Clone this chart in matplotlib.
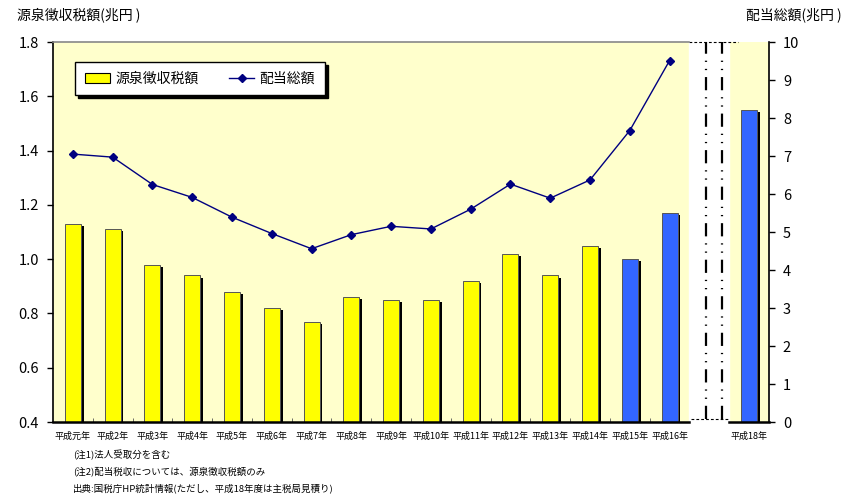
import matplotlib

matplotlib.use("Agg")
import matplotlib.pyplot as plt
import numpy as np
from matplotlib.patches import Patch
from matplotlib.lines import Line2D

plt.rcParams["font.family"] = ["Noto Sans CJK JP", "DejaVu Sans"]
plt.rcParams["lines.scale_dashes"] = False

# --- data ---------------------------------------------------------------
years = ["平成元年", "平成2年", "平成3年", "平成4年", "平成5年", "平成6年", "平成7年",
         "平成8年", "平成9年", "平成10年", "平成11年", "平成12年", "平成13年",
         "平成14年", "平成15年", "平成16年"]
withholding = [1.13, 1.11, 0.98, 0.94, 0.88, 0.82, 0.77, 0.86, 0.85, 0.85,
               0.92, 1.02, 0.94, 1.05, 1.00, 1.17]
dividends = [7.05, 6.97, 6.25, 5.91, 5.39, 4.96, 4.56, 4.93, 5.15, 5.08,
             5.60, 6.26, 5.89, 6.37, 7.67, 9.51]
extra_year = "平成18年"
extra_withholding = 1.55
blue_years = {"平成15年", "平成16年"}

left_ticks = [0.4, 0.6, 0.8, 1.0, 1.2, 1.4, 1.6, 1.8]
right_ticks = list(range(0, 11))
notes = ["(注1)法人受取分を含む",
         "(注2)配当税収については、源泉徴収税額のみ",
         "出典:国税庁HP統計情報(ただし、平成18年度は主税局見積り)"]

YELLOW = "#FFFF00"
BLUE = "#3366FF"
BG = "#FFFFCC"
NAVY = "#000080"

W, H = 852, 495
fig = plt.figure(figsize=(W / 100, H / 100), dpi=100)
ax1 = fig.add_axes([53 / W, 1 - 422 / H, (769 - 53) / W, (422 - 42) / H])
ax1.set_facecolor(BG)

n = len(years)
x = np.arange(n)
gap_x = n          # white break column
x18 = n + 1

# bars with black drop shadow
bw = 0.40
all_x = list(x) + [x18]
all_v = withholding + [extra_withholding]
all_lab = years + [extra_year]
for xi, v, lab in zip(all_x, all_v, all_lab):
    col = BLUE if (lab in blue_years or lab == extra_year) else YELLOW
    ax1.bar(xi + 0.07, v - 0.4 - 0.008, bottom=0.4, width=bw, color="black", zorder=2)
    ax1.bar(xi, v - 0.4, bottom=0.4, width=bw, color=col, edgecolor="#555555",
            linewidth=0.7, zorder=3)

ax1.set_xlim(-0.5, n + 1.5)
ax1.set_ylim(0.4, 1.8)
ax1.set_yticks(left_ticks)
ax1.set_yticklabels([f"{t:.1f}" for t in left_ticks])

# break column
ax1.axvspan(gap_x - 0.5, gap_x + 0.5, color="white", zorder=1)
for bx in (gap_x - 0.08, gap_x + 0.32):
    ax1.axvline(bx, ymin=0.008, ymax=1.0, color="black", lw=1.6,
                linestyle=(0, (9.5, 5, 0.9, 5, 0.9, 5)), zorder=4)
ax1.plot([gap_x - 0.5, gap_x + 0.73], [1.8, 1.8], color="black", lw=0.8,
         linestyle=(0, (2, 1.5)), zorder=5, clip_on=False)
ax1.plot([gap_x - 0.45, gap_x + 0.5], [0.41, 0.41], color="black", lw=0.8,
         linestyle=(0, (2, 1.5)), zorder=5)

# spines
for s in ("top", "bottom", "right"):
    ax1.spines[s].set_visible(False)
ax1.spines["left"].set_linewidth(1.2)
ax1.plot([-0.5, gap_x - 0.5], [1.8, 1.8], color="#888888", lw=1.2, zorder=5, clip_on=False)
ax1.plot([-0.5, gap_x - 0.5], [0.4, 0.4], color="black", lw=1.8, zorder=5, clip_on=False)
ax1.plot([gap_x + 0.5, n + 1.5], [0.4, 0.4], color="black", lw=1.8, zorder=5, clip_on=False)

ax1.set_xticks(all_x)
ax1.set_xticklabels(all_lab, fontsize=6.5)
ax1.tick_params(axis="x", which="major", length=0, pad=7)
ax1.set_xticks(np.arange(0.5, n - 0.5), minor=True)
ax1.tick_params(axis="x", which="minor", direction="in", length=3, color="#555555")
ax1.tick_params(axis="y", labelsize=10.5, length=4, width=1, pad=6)

# dividend line on right axis
ax2 = ax1.twinx()
ax2.plot(x, dividends, color=NAVY, lw=1, marker="D", markersize=4.5, zorder=6)
ax2.set_ylim(0, 10)
ax2.set_yticks(right_ticks)
ax2.tick_params(axis="y", labelsize=10.5, length=4, width=1, pad=6)
for s in ("top", "bottom", "left"):
    ax2.spines[s].set_visible(False)
ax2.spines["right"].set_linewidth(1.2)

handles = [Patch(facecolor=YELLOW, edgecolor="black", linewidth=0.8),
           Line2D([], [], color=NAVY, lw=1, marker="D", markersize=4)]
leg = ax2.legend(handles, ["源泉徴収税額", "配当総額"], ncol=2, loc="upper left",
                 bbox_to_anchor=(75 / W, 1 - 62 / H), bbox_transform=fig.transFigure,
                 borderaxespad=0, fancybox=False, frameon=True, fontsize=10,
                 shadow={"color": "black", "alpha": 1}, handlelength=1.8,
                 columnspacing=2.2, borderpad=0.7, handletextpad=0.4)
leg.get_frame().set_edgecolor("black")
leg.get_frame().set_linewidth(1)
leg.get_frame().set_facecolor("white")
leg.get_frame().set_alpha(1)

fig.text(17 / W, 1 - 15 / H, "源泉徴収税額(兆円 )", fontsize=10, va="center", ha="left")
fig.text(842 / W, 1 - 15 / H, "配当総額(兆円 )", fontsize=10, va="center", ha="right")

for i, t in enumerate(notes):
    fig.text(73 / W, 1 - (455 + 16.7 * i) / H, t, fontsize=6.8, va="center", ha="left")

fig.savefig("out.png", dpi=100)
